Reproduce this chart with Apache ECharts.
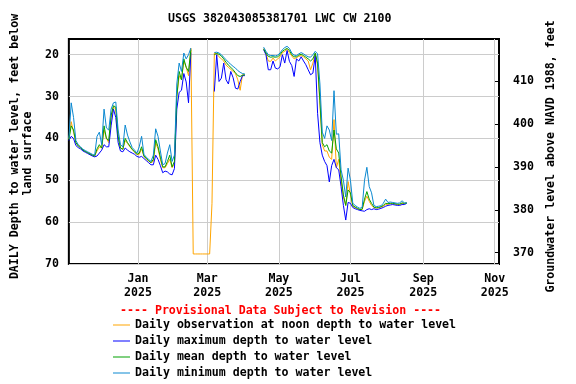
<!DOCTYPE html>
<html>
<head>
<meta charset="utf-8">
<script src="https://cdn.jsdelivr.net/npm/echarts@6/dist/echarts.min.js"></script>
<style>
html,body{margin:0;padding:0;background:#fff;}
#chart{width:576px;height:384px;}
</style>
</head>
<body>
<div id="chart"></div>
<script>
// ---- data (depth to water level, feet below land surface), one value every 2 days from 2024-11-03 ----
const START_DATE = '2024-11-03';
const STEP_DAYS = 2;
const titleText = 'USGS 382043085381701 LWC CW 2100';
const provisionalText = '---- Provisional Data Subject to Revision ----';
const leftAxisLine1 = 'DAILY Depth to water level, feet below';
const leftAxisLine2 = 'land surface';
const rightAxisName = 'Groundwater level above NAVD 1988, feet';
const seriesNames = [
  'Daily observation at noon depth to water level',
  'Daily maximum depth to water level',
  'Daily mean depth to water level',
  'Daily minimum depth to water level'
];
const xTickDates = ['2025-01-01','2025-03-01','2025-05-01','2025-07-01','2025-09-01','2025-11-01'];
const depthTicks = [20,30,40,50,60,70];
const elevTicks = [370,380,390,400,410];
const _ = null;

const noonDepth = [
  40.2,36.0,38.5,41.0,41.8,42.2,42.8,43.1,43.4,43.7,44.0,44.2,43.0,42.0,42.3,38.0,40.0,41.0,35.0,32.5,
  33.0,39.5,42.3,42.6,40.5,41.2,42.0,42.7,43.2,43.9,43.8,42.5,44.3,44.9,45.4,45.8,45.5,41.0,42.5,45.0,
  47.0,47.0,46.0,45.0,47.0,46.0,30.0,25.0,26.0,21.5,23.0,25.0,18.5,
  67.6,67.6,67.6,67.6,67.6,67.6,67.6,67.6,55.5,
  19.6,19.8,20.5,21.0,21.5,22.5,23.0,23.5,24.0,24.5,26.0,28.5,24.8,24.8,
  _,_,_,_,_,_,_,
  18.6,19.8,21.5,21.6,20.8,21.5,21.0,20.5,19.5,19.2,
  18.7,19.5,20.3,21.0,20.7,20.4,20.2,20.5,21.0,21.5,
  23.6,22.0,19.8,22.5,32.0,41.5,43.0,43.0,44.5,45.0,
  35.5,47.0,45.0,50.0,54.0,56.0,50.3,53.5,56.2,56.5,
  56.8,57.0,57.0,55.0,53.8,55.0,56.0,56.5,56.6,56.6,
  56.4,56.2,55.8,55.7,55.6,55.6,55.7,55.8,55.8,55.5,
  55.6,55.4
];
const maxDepth = [
  40.5,39.5,40.0,41.7,42.2,42.5,43.0,43.3,43.6,43.9,44.2,44.4,44.2,43.5,42.8,41.5,42.0,42.0,37.0,33.0,
  35.0,41.0,43.0,43.2,42.3,42.8,43.2,43.5,43.8,44.3,44.5,44.3,44.8,45.3,45.8,46.3,46.3,44.0,45.0,46.5,
  48.2,47.8,48.0,48.5,48.7,47.2,33.0,29.0,28.5,24.5,26.5,31.5,19.5,
  _,_,_,_,_,_,_,_,_,
  28.8,20.0,26.4,25.6,22.0,26.0,27.0,24.0,25.5,28.0,28.2,26.4,25.0,25.0,
  _,_,_,_,_,_,_,
  18.8,20.0,23.6,23.6,21.5,23.2,23.4,22.9,20.0,22.0,
  19.0,21.6,22.6,25.2,21.0,21.5,20.5,21.5,22.4,23.6,
  24.8,24.4,20.2,34.0,41.0,44.0,45.5,46.5,50.4,46.5,
  45.0,47.0,47.5,51.5,56.0,59.5,55.3,55.5,56.5,56.8,
  57.0,57.2,57.3,57.4,57.0,56.8,57.0,56.8,57.0,56.9,
  56.7,56.5,56.2,56.0,55.9,55.8,55.9,56.0,56.0,55.8,
  55.8,55.5
];
const meanDepth = [
  40.3,37.0,38.0,41.0,41.8,42.2,42.8,43.1,43.4,43.7,44.0,44.2,42.5,41.5,42.3,37.0,40.0,40.5,34.5,32.2,
  32.5,39.5,42.3,42.6,40.0,41.0,41.8,42.6,43.2,43.8,43.5,42.0,44.2,44.8,45.3,45.8,45.0,40.3,42.0,44.5,
  46.8,46.8,45.5,44.0,46.8,45.5,30.0,24.0,26.0,21.0,23.0,24.0,18.8,
  _,_,_,_,_,_,_,_,_,
  20.0,19.7,19.9,20.3,21.0,21.8,22.5,23.0,23.6,24.3,25.0,25.2,24.9,24.8,
  _,_,_,_,_,_,_,
  18.6,19.6,20.4,20.6,20.5,20.6,20.5,20.0,19.2,18.8,
  18.5,19.0,20.0,20.5,20.5,20.1,19.9,20.2,20.6,21.0,
  21.5,21.0,19.6,22.0,31.0,41.0,42.0,41.5,43.0,43.5,
  38.0,42.5,43.5,49.0,53.5,56.0,52.3,53.0,56.0,56.4,
  56.7,57.0,56.9,54.5,52.7,54.5,55.5,56.4,56.6,56.5,
  56.3,56.0,55.5,55.6,55.5,55.5,55.6,55.7,55.7,55.4,
  55.5,55.4
];
const minDepth = [
  40.0,31.5,35.0,40.5,41.5,42.0,42.6,42.9,43.2,43.5,43.8,44.0,39.5,38.5,41.5,33.0,37.5,38.0,33.0,31.5,
  31.3,38.0,41.5,42.0,36.8,39.2,40.8,42.2,42.8,43.5,42.0,39.5,43.8,44.5,45.0,45.5,44.0,37.7,39.5,43.0,
  46.3,46.0,43.5,41.5,45.5,44.0,27.0,22.0,24.0,19.6,21.0,20.0,18.4,
  _,_,_,_,_,_,_,_,_,
  19.5,19.4,19.6,20.0,20.6,21.2,21.8,22.3,22.8,23.2,23.8,24.2,24.5,24.6,
  _,_,_,_,_,_,_,
  18.2,19.2,20.0,20.2,20.2,20.3,20.1,19.6,18.8,18.3,
  18.0,18.5,19.6,20.1,20.2,19.8,19.5,19.8,20.2,20.5,
  20.6,20.0,19.2,19.8,27.0,38.5,40.0,37.0,38.0,40.5,
  28.6,39.0,38.9,47.5,50.0,54.0,47.1,50.0,55.5,56.0,
  56.4,56.7,56.5,50.0,46.9,51.5,53.0,56.0,56.3,56.2,
  56.1,55.5,54.5,55.3,55.2,55.3,55.4,55.5,55.4,54.9,
  55.4,55.4
];

// ---- chart ----
const DAY = 86400000;
const t0 = Date.parse(START_DATE + 'T00:00:00Z');
function toPairs(arr){ return arr.map((v,i)=>[t0 + i*STEP_DAYS*DAY, v]); }
const MONTHS = ['Jan','Feb','Mar','Apr','May','Jun','Jul','Aug','Sep','Oct','Nov','Dec'];
const FONT = 'DejaVu Sans Mono';
const FS = 11.6;
const txt = {fontFamily: FONT, fontSize: FS, fontWeight: 'bold', color: '#000'};
const colors = ['#FFA500','#0000FF','#00A000','#0A88D0'];
const seriesData = [noonDepth, maxDepth, meanDepth, minDepth];
const xTicks = xTickDates.map(d=>Date.parse(d+'T00:00:00Z'));

const chart = echarts.init(document.getElementById('chart'), null, {renderer:'canvas'});
const option = {
  animation: false,
  backgroundColor: '#fff',
  title: [
    {text: titleText, left: 168, top: 12, padding: 0,
     textStyle: Object.assign({}, txt, {lineHeight: 14})},
    {text: provisionalText, left: 120, top: 304, padding: 0,
     textStyle: Object.assign({}, txt, {color: '#FF0000', lineHeight: 14})}
  ],
  legend: seriesNames.map((n,k)=>({
    data: [n], left: 113, top: 318 + 16*k, padding: 0, orient: 'vertical',
    icon: 'rect', itemWidth: 17, itemHeight: 1, selectedMode: false,
    textStyle: Object.assign({}, txt, {lineHeight: 14})
  })),
  grid: {left: 64, top: 39, width: 435, height: 225, show: true,
         borderColor: '#000', borderWidth: 2, backgroundColor: 'transparent'},
  xAxis: {
    type: 'value',
    min: Date.UTC(2024,10,3), max: Date.UTC(2025,10,4,15),
    axisLine: {show: false},
    axisTick: {show: false, customValues: xTicks},
    axisLabel: Object.assign({}, txt, {
      customValues: xTicks,
      margin: 8, lineHeight: 14,
      formatter: function(v){ const d = new Date(v); return MONTHS[d.getUTCMonth()] + '\n' + d.getUTCFullYear(); }
    }),
    splitLine: {show: true, lineStyle: {color: '#cccccc', width: 1}}
  },
  yAxis: [
    {
      type: 'value', inverse: true, min: 16.25, max: 70,
      name: '{a|' + leftAxisLine1 + '}\n{b|' + leftAxisLine2 + '}',
      nameLocation: 'middle', nameRotate: 90, nameGap: 34,
      nameTextStyle: Object.assign({}, txt, {lineHeight: 13, rich: {
        a: Object.assign({}, txt, {lineHeight: 13, padding: [0,0,0,10]}),
        b: Object.assign({}, txt, {lineHeight: 13, padding: [0,4,0,0]})
      }}),
      axisLine: {show: false},
      axisTick: {show: false, customValues: depthTicks},
      axisLabel: Object.assign({}, txt, {customValues: depthTicks, margin: 10}),
      splitLine: {show: true, lineStyle: {color: '#cccccc', width: 1}}
    },
    {
      type: 'value', position: 'right', min: 367.36, max: 419.9,
      name: rightAxisName,
      nameLocation: 'middle', nameRotate: 90, nameGap: 44,
      nameTextStyle: Object.assign({}, txt, {lineHeight: 13, padding: [0,10,0,0]}),
      axisLine: {show: false},
      axisTick: {show: true, inside: true, length: 4, customValues: elevTicks, lineStyle: {color: '#000', width: 1}},
      axisLabel: Object.assign({}, txt, {customValues: elevTicks, margin: 14}),
      splitLine: {show: false}
    }
  ],
  series: seriesNames.map((n,k)=>({
    name: n, type: 'line', yAxisIndex: 0,
    data: toPairs(seriesData[k]),
    showSymbol: false, symbol: 'none', connectNulls: false,
    lineStyle: {color: colors[k], width: 1}, itemStyle: {color: colors[k]},
    z: 2 + k
  }))
};
chart.setOption(option);
</script>
</body>
</html>
